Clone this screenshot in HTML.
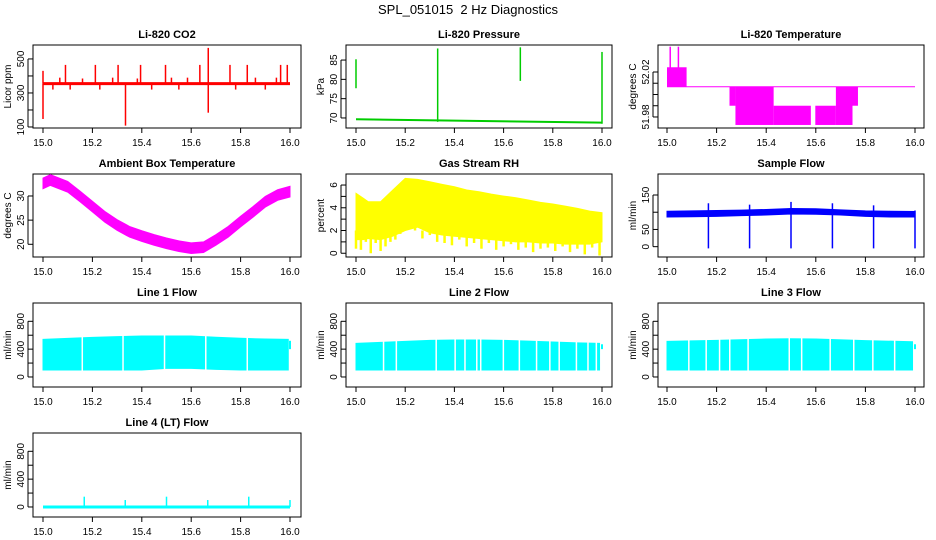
<!DOCTYPE html>
<html><head><meta charset="utf-8"><style>
html,body{margin:0;padding:0;background:#fff;}
svg{display:block;font-family:"Liberation Sans",sans-serif;}
</style></head><body>
<svg id="c" width="936" height="540" viewBox="0 0 936 540" xmlns="http://www.w3.org/2000/svg">
<text x="468" y="14" text-anchor="middle" font-size="13" xml:space="preserve">SPL_051015&#160; 2 Hz Diagnostics</text>
</svg>
<script>
// ---- data arrays ----
const xTicks=[15.0,15.2,15.4,15.6,15.8,16.0];
const xTickLabels=["15.0","15.2","15.4","15.6","15.8","16.0"];
// CO2
const co2Base=355;
const co2SpikeX=[15.0,15.0,15.091,15.212,15.304,15.395,15.496,15.635,15.669,15.757,15.827,15.962,15.989,15.334,15.669,15.068,15.16,15.282,15.382,15.52,15.585,15.86,15.945,15.04,15.11,15.23,15.44,15.55,15.78,15.90];
const co2SpikeV=[147,430,465,465,465,465,465,465,565,465,465,465,465,108,184,390,385,390,385,390,390,390,390,320,320,320,320,320,320,320];
// Pressure
const presX=[15.0,16.0];
const presBase=[69.66,68.8];
const presSpikeX=[15.0,15.332,15.668,16.0];
const presSpikeLo=[77.7,69.0,79.6,68.5];
const presSpikeHi=[85.2,88.0,88.3,87.1];
// Li-820 temperature
const tempLevel=52.0069;
const tempBlockX0=[15.0,15.252,15.276,15.43,15.598,15.681,15.748];
const tempBlockX1=[15.079,15.276,15.43,15.58,15.681,15.748,15.77];
const tempBlockLo=[52.0069,51.990,51.9729,51.9729,51.9729,51.9729,51.990];
const tempBlockHi=[52.0242,52.0069,52.0069,51.990,51.990,52.0069,52.0069];
const tempSpikeX=[15.013,15.046];
const tempSpikeV=[52.0425,52.0425];
// Ambient
const ambX=[15.0,15.03,15.1,15.15,15.2,15.25,15.3,15.35,15.4,15.45,15.5,15.55,15.6,15.65,15.7,15.75,15.8,15.85,15.9,15.95,16.0];
const ambV=[32.6,33.3,31.9,29.9,27.8,25.7,24.0,22.6,21.7,20.9,20.2,19.6,19.2,19.4,20.9,22.6,24.7,26.7,28.8,30.2,30.9];
const ambHalf=1.1;
// RH
const rhX=[15.0,15.03,15.05,15.1,15.15,15.2,15.25,15.3,15.35,15.4,15.45,15.5,15.55,15.6,15.65,15.7,15.75,15.8,15.85,15.9,15.95,16.0];
const rhHi=[5.27,4.83,4.53,4.53,5.56,6.58,6.5,6.29,6.06,5.85,5.56,5.41,5.2,5.03,4.88,4.68,4.48,4.33,4.15,3.95,3.71,3.57];
const rhLo=[1.2,1.2,1.3,1.2,1.5,2.0,2.3,1.8,1.6,1.5,1.4,1.3,1.2,1.1,1.0,1.0,0.9,0.9,0.8,0.8,0.8,1.0];
const rhSpikeX=[15.0,15.02,15.04,15.06,15.08,15.10,15.12,15.14,15.16,15.18,15.21,15.24,15.27,15.30,15.33,15.36,15.39,15.42,15.45,15.48,15.51,15.54,15.57,15.60,15.63,15.66,15.69,15.72,15.75,15.78,15.81,15.84,15.87,15.90,15.93,15.96,15.99];
const rhSpikeV=[0.4,0.3,1.0,0.0,0.9,0.2,0.6,1.0,1.2,1.7,2.0,3.0,1.3,1.6,1.0,0.9,0.7,1.2,0.6,0.9,0.4,0.9,0.3,0.6,0.8,0.3,0.5,0.1,0.4,0.5,0.2,0.6,0.1,0.4,-0.1,0.5,-0.2];
// Sample flow
const sfX=[15.0,15.1,15.2,15.3,15.4,15.5,15.6,15.7,15.8,15.9,16.0];
const sfHi=[103,104,105,106,108,111,110,107,104,103,102];
const sfLo=[86,87,88,90,92,95,94,92,88,86,86];
const sfDipX=[15.167,15.333,15.5,15.667,15.833,16.0];
const sfDipLo=[-5,-5,-5,-5,-5,-5];
const sfDipHi=[126,122,130,126,120,105];
// Line 1
const l1X=[15.0,15.1,15.2,15.3,15.4,15.5,15.6,15.7,15.8,15.9,15.993];
const l1Hi=[541,555,569,579,589,589,589,570,556,545,541];
const l1Lo=[100,100,100,100,100,124,124,110,100,100,100];
const l1GapX=[15.159,15.324,15.492,15.659,15.827];
// Line 2
const l2X=[15.0,15.1,15.2,15.3,15.4,15.5,15.6,15.7,15.8,15.9,15.99];
const l2Hi=[483,497,512,526,531,531,526,516,502,490,483];
const l2Lo=[100,100,100,100,100,100,100,100,100,100,100];
const l2GapX=[15.112,15.164,15.326,15.403,15.443,15.491,15.507,15.599,15.664,15.734,15.788,15.826,15.896,15.943,15.977];
// Line 3
const l3X=[15.0,15.2,15.4,15.5,15.6,15.8,15.99];
const l3Hi=[512,526,546,550,546,522,507];
const l3Lo=[100,100,100,100,100,100,100];
const l3GapX=[15.088,15.158,15.212,15.253,15.327,15.493,15.543,15.658,15.753,15.830,15.918];
const endPieceLo=[400,400,400];
const endPieceHi=[520,470,470];
// Line 4
const l4Base=0;
const l4SpikeX=[15.167,15.333,15.5,15.667,15.833,16.0];
const l4SpikeV=[148,100,148,100,148,100];

// ---- drawing ----
const NS="http://www.w3.org/2000/svg";
const svg=document.getElementById('c');
function mk(tag,attrs){const e=document.createElementNS(NS,tag);for(const k in attrs)e.setAttribute(k,attrs[k]);svg.appendChild(e);return e;}
function ln(x1,y1,x2,y2,col,w,name){const e=mk('line',{x1:x1,y1:y1,x2:x2,y2:y2,stroke:col,'stroke-width':w});


return e;}
const cols=[{bl:33,br:301,x0:43,x1:290},{bl:346,br:612,x0:356,x1:602},{bl:658,br:924,x0:667,x1:915}];
const rows=[{t:45,b:128},{t:174,b:257},{t:303,b:387},{t:433,b:517}];
function panel(ci,ri,title,ylab,ylim,ticks,labels,slug){
 const c=cols[ci],r=rows[ri];
 const X=v=>c.x0+(v-15)*(c.x1-c.x0);
 const Y=v=>r.b-(v-ylim[0])/(ylim[1]-ylim[0])*(r.b-r.t);
 const box=mk('rect',{x:c.bl,y:r.t,width:c.br-c.bl,height:r.b-r.t,fill:'none',stroke:'#000','stroke-width':1});
 
 
 const t=mk('text',{x:(c.bl+c.br)/2,y:r.t-7,'text-anchor':'middle','font-size':11,'font-weight':'bold'});t.textContent=title;
 
 
 xTicks.forEach((v,i)=>{ln(X(v),r.b,X(v),r.b+5,'#000',1,slug+'-x-tick');
  const tx=mk('text',{x:X(v),y:r.b+18,'text-anchor':'middle','font-size':10});tx.textContent=xTickLabels[i];
  
  });
 ln(c.bl-5,Y(ticks[0]),c.bl-5,Y(ticks[ticks.length-1]),'#000',1,slug+'-y-axis');
 ticks.forEach((v,i)=>{ln(c.bl-5,Y(v),c.bl,Y(v),'#000',1,slug+'-y-tick');
  if(labels[i]){const tx=mk('text',{x:c.bl-9,y:Y(v),'text-anchor':'middle','font-size':10,transform:`rotate(-90 ${c.bl-9} ${Y(v)})`});tx.textContent=labels[i];
  
  }});
 const yl=mk('text',{x:c.bl-22,y:(r.t+r.b)/2,'text-anchor':'middle','font-size':10,transform:`rotate(-90 ${c.bl-22} ${(r.t+r.b)/2})`});yl.textContent=ylab;
 
 
 return {X,Y};
}
function env(P,xs,hi,lo,col,name){let pts=xs.map((x,i)=>P.X(x)+','+P.Y(hi[i]));
 for(let i=xs.length-1;i>=0;i--)pts.push(P.X(xs[i])+','+P.Y(lo[i]));
 const e=mk('polygon',{points:pts.join(' '),fill:col,stroke:col,'stroke-width':1});
 
 }

// CO2
let P=panel(0,0,'Li-820 CO2','Licor ppm',[94,582],[100,200,300,400,500],['100','','300','','500'],'co2');
ln(P.X(15),P.Y(co2Base),P.X(16),P.Y(co2Base),'#f00',3,'co2-line');
co2SpikeX.forEach((x,i)=>ln(P.X(x),P.Y(co2Base),P.X(x),P.Y(co2SpikeV[i]),'#f00',1.5,'co2-spike'));
// Pressure
P=panel(1,0,'Li-820 Pressure','kPa',[67.4,88.9],[70,75,80,85],['70','75','80','85'],'pressure');
ln(P.X(presX[0]),P.Y(presBase[0]),P.X(presX[1]),P.Y(presBase[1]),'#0c0',2,'pressure-line');
presSpikeX.forEach((x,i)=>ln(P.X(x),P.Y(presSpikeLo[i]),P.X(x),P.Y(presSpikeHi[i]),'#0c0',1.5,'pressure-spike'));
// Temperature
P=panel(2,0,'Li-820 Temperature','degrees C',[51.9702,52.044],[51.98,51.99,52.00,52.01,52.02],['51.98','','','','52.02'],'li820-temp');
ln(P.X(15),P.Y(tempLevel),P.X(16),P.Y(tempLevel),'#f0f',1,'li820-temp-line');
tempBlockX0.forEach((x,i)=>{const e=mk('rect',{x:P.X(x),y:P.Y(tempBlockHi[i]),width:P.X(tempBlockX1[i])-P.X(x),height:P.Y(tempBlockLo[i])-P.Y(tempBlockHi[i]),fill:'#f0f'});
 
 });
tempSpikeX.forEach((x,i)=>ln(P.X(x),P.Y(tempLevel),P.X(x),P.Y(tempSpikeV[i]),'#f0f',1.5,'li820-temp-spike'));
// Ambient
P=panel(0,1,'Ambient Box Temperature','degrees C',[17.37,34.55],[20,25,30],['20','25','30'],'ambient');
env(P,ambX,ambV.map(v=>v+ambHalf),ambV.map(v=>v-ambHalf),'#f0f','ambient-band');
// RH
P=panel(1,1,'Gas Stream RH','percent',[-0.33,6.97],[0,1,2,3,4,5,6],['0','','2','','4','','6'],'rh');
env(P,rhX,rhHi,rhLo,'#ff0','rh-band');
rhSpikeX.forEach((x,i)=>ln(P.X(x),P.Y(2),P.X(x),P.Y(rhSpikeV[i]),'#ff0',2.5,'rh-spike'));
// Sample flow
P=panel(2,1,'Sample Flow','ml/min',[-30,211],[0,50,100,150],['0','50','','150'],'sample-flow');
env(P,sfX,sfHi,sfLo,'#00f','sample-flow-band');
sfDipX.forEach((x,i)=>ln(P.X(x),P.Y(sfDipLo[i]),P.X(x),P.Y(sfDipHi[i]),'#00f',1.5,'sample-flow-dip'));
// Lines
const lt=[0,200,400,600,800],ll=['0','','400','','800'],lylim=[-144,1063];
function flowPanel(ci,ri,title,slug,xs,hi,lo,gaps,k){
 const P=panel(ci,ri,title,'ml/min',lylim,lt,ll,slug);
 env(P,xs,hi,lo,'#0ff',slug+'-band');
 gaps.forEach(g=>ln(P.X(g),P.Y(lo[0])+1,P.X(g),P.Y(700),'#fff',1.5,slug+'-gap'));
 ln(P.X(16),P.Y(endPieceLo[k]),P.X(16),P.Y(endPieceHi[k]),'#0ff',2,slug+'-end-piece');
}
flowPanel(0,2,'Line 1 Flow','line1-flow',l1X,l1Hi,l1Lo,l1GapX,0);
flowPanel(1,2,'Line 2 Flow','line2-flow',l2X,l2Hi,l2Lo,l2GapX,1);
flowPanel(2,2,'Line 3 Flow','line3-flow',l3X,l3Hi,l3Lo,l3GapX,2);
P=panel(0,3,'Line 4 (LT) Flow','ml/min',lylim,lt,ll,'line4-flow');
ln(P.X(15),P.Y(l4Base),P.X(16),P.Y(l4Base),'#0ff',3,'line4-flow-line');
l4SpikeX.forEach((x,i)=>ln(P.X(x),P.Y(l4Base),P.X(x),P.Y(l4SpikeV[i]),'#0ff',1.5,'line4-flow-spike'));
</script>
</body></html>
